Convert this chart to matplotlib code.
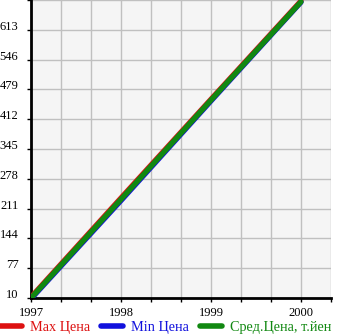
import matplotlib
matplotlib.use('Agg')
from matplotlib import pyplot as plt
from matplotlib.lines import Line2D

# Данные графика
years = [1997, 1998, 1999, 2000]
max_price = [12, 235, 457, 678]
min_price = [8, 229, 453, 675]
avg_price = [10, 232, 455, 676]

y_ticks = [10, 77, 144, 211, 278, 345, 412, 479, 546, 613]
x_labels = ['1997', '1998', '1999', '2000']

plt.rcParams['font.family'] = ['Liberation Serif', 'DejaVu Serif']
plt.rcParams['ytick.alignment'] = 'baseline'

fig = plt.figure(figsize=(3.45, 3.35), dpi=100)
ax = fig.add_axes([31 / 345, 37 / 335, 300 / 345, 298 / 335])
ax.set_facecolor('#f5f5f5')

ax.plot(years, max_price, color='#dd1111', lw=3.8, solid_capstyle='round', zorder=3)
ax.plot(years, min_price, color='#1111dd', lw=3.8, solid_capstyle='round', zorder=4)
ax.plot(years, avg_price, color='#118811', lw=3.8, solid_capstyle='round', zorder=5)

ax.set_xlim(1997, 2000 + 1 / 3)
ax.set_ylim(10, 680)

# сетка каждые 1/3 года и каждые 67 единиц
x_grid = [1997 + i / 3 for i in range(11)]
ax.set_xticks(x_grid)
ax.set_xticklabels([x_labels[i // 3] if i % 3 == 0 else '' for i in range(11)])
ax.set_yticks(y_ticks + [680])
ax.set_yticklabels([str(v) for v in y_ticks] + [''])
ax.grid(True, color='#c0c0c0', lw=1)
ax.set_axisbelow(True)

ax.tick_params(axis='both', direction='out', length=3, width=1, labelsize=9, colors='black')
ax.tick_params(axis='x', pad=3.5)
ax.tick_params(axis='y', pad=6)

for s in ['top', 'right']:
    ax.spines[s].set_visible(False)
for s in ['left', 'bottom']:
    ax.spines[s].set_linewidth(2)
    ax.spines[s].set_color('black')

handles = [Line2D([], [], color='#dd1111', lw=4, solid_capstyle='round'),
           Line2D([], [], color='#1111dd', lw=4, solid_capstyle='round'),
           Line2D([], [], color='#118811', lw=4, solid_capstyle='round')]
labels = ['Max Цена', 'Min Цена', 'Сред.Цена, т.йен']
leg = fig.legend(handles, labels, loc='center left', bbox_to_anchor=(0.0, 8 / 335), ncol=3,
                 frameon=False, fontsize=10.3, handlelength=1.55, handletextpad=0.55,
                 columnspacing=0.75, borderaxespad=0, borderpad=0)
for t, c in zip(leg.get_texts(), ['#dd1111', '#1111dd', '#118811']):
    t.set_color(c)

fig.savefig('out.png', dpi=100)
